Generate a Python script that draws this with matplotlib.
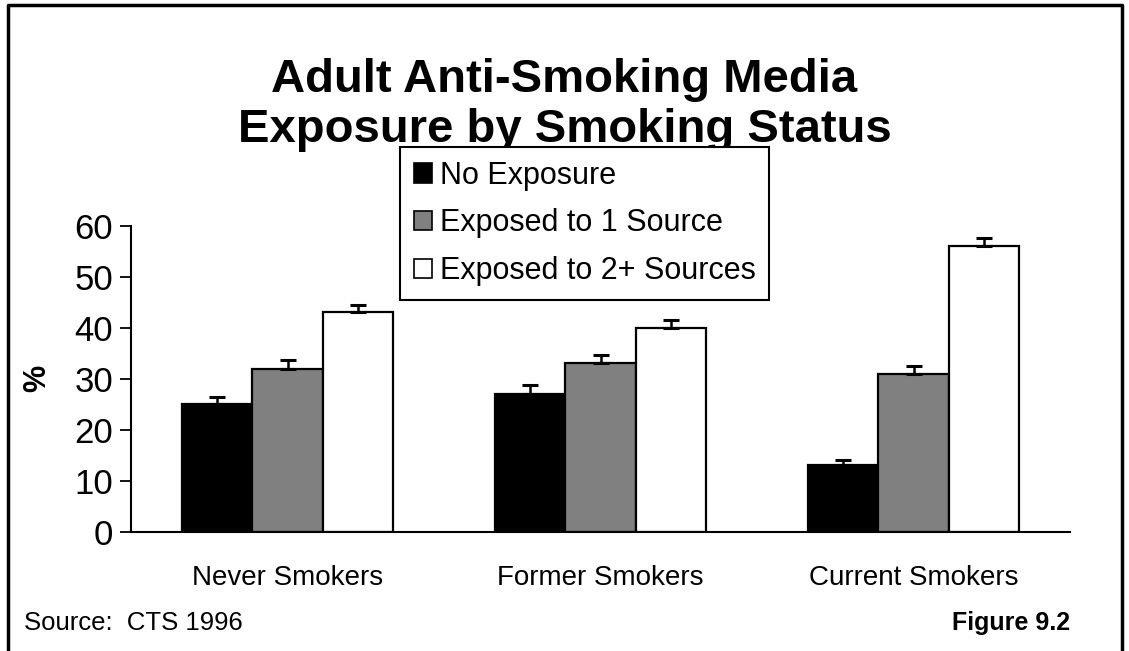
import numpy as np
import matplotlib
matplotlib.use("Agg")
import matplotlib.pyplot as plt
from matplotlib.patches import Patch
from matplotlib.lines import Line2D

plt.rcParams['font.family'] = ['Liberation Sans', 'DejaVu Sans']

# Daten
categories = ["Never Smokers", "Former Smokers", "Current Smokers"]
series_names = ["No Exposure", "Exposed to 1 Source", "Exposed to 2+ Sources"]
no_exposure = [25, 27, 13]
one_source = [32, 33, 31]
two_sources = [43, 40, 56]
err_no = [1.5, 1.8, 1.0]
err_one = [1.6, 1.7, 1.4]
err_two = [1.5, 1.5, 1.5]
yticks = [0, 10, 20, 30, 40, 50, 60]

colors = ["#000000", "#808080", "#ffffff"]

fig = plt.figure(figsize=(11.29, 6.51), dpi=100)
ax = fig.add_axes([131/1129, 1 - 531.7/651, (1070 - 131)/1129, (531.7 - 225.7)/651])

x = np.arange(len(categories))
w = 0.224
values = [no_exposure, one_source, two_sources]
errors = [err_no, err_one, err_two]
for i, (vals, errs) in enumerate(zip(values, errors)):
    pos = x + (i - 1) * w
    ax.bar(pos, vals, width=w, color=colors[i], edgecolor='black', linewidth=1.6, zorder=2)
    ax.errorbar(pos, vals, yerr=[np.zeros(len(errs)), errs], fmt='none', ecolor='black',
                elinewidth=1.8, capsize=5.5, capthick=2.2, zorder=3)

ax.set_xlim(-0.5, 2.5)
ax.set_ylim(0, 60)
ax.set_yticks(yticks)
ax.set_xticks(x)
ax.set_xticklabels(categories, fontsize=20)
ax.tick_params(axis='x', length=0, pad=24)
ax.tick_params(axis='y', direction='out', length=8, width=1.3, labelsize=25, pad=5)
for s in ['top', 'right']:
    ax.spines[s].set_visible(False)
ax.spines['left'].set_linewidth(1.5)
ax.spines['bottom'].set_linewidth(1.5)
ax.set_ylabel("%", fontsize=22, fontweight='bold', labelpad=16)

# Titel
fig.text(0.5, 1 - 80/651, "Adult Anti-Smoking Media", ha='center', va='center',
         fontsize=34, fontweight='bold')
fig.text(0.5, 1 - 130/651, "Exposure by Smoking Status", ha='center', va='center',
         fontsize=34, fontweight='bold')

# Legende (deckend, verdeckt die Unterlaengen des Titels)
handles = [Patch(facecolor=c, edgecolor='black', linewidth=1.2) for c in colors]
leg = fig.legend(handles, series_names, loc='upper left',
                 bbox_to_anchor=(400/1129, 1 - 147/651), fontsize=22,
                 frameon=True, fancybox=False, framealpha=1, borderaxespad=0,
                 handlelength=0.6, handleheight=0.6, handletextpad=0.25,
                 labelspacing=0.58, borderpad=0.45)
leg.get_frame().set_edgecolor('black')
leg.get_frame().set_linewidth(1.5)
leg.set_zorder(10)

# Quelle und Abbildungsnummer
fig.text(24/1129, 1 - 623/651, "Source:  CTS 1996", ha='left', va='center', fontsize=18.5)
fig.text(1070/1129, 1 - 623/651, "Figure 9.2", ha='right', va='center', fontsize=18,
         fontweight='bold')

# Rahmen (links, oben, rechts)
fig.add_artist(Line2D([8/1129, 8/1129, 1122/1129, 1122/1129], [0, 1 - 5/651, 1 - 5/651, 0],
                      transform=fig.transFigure, color='black', linewidth=2.5))

plt.savefig('out.png', dpi=100)
